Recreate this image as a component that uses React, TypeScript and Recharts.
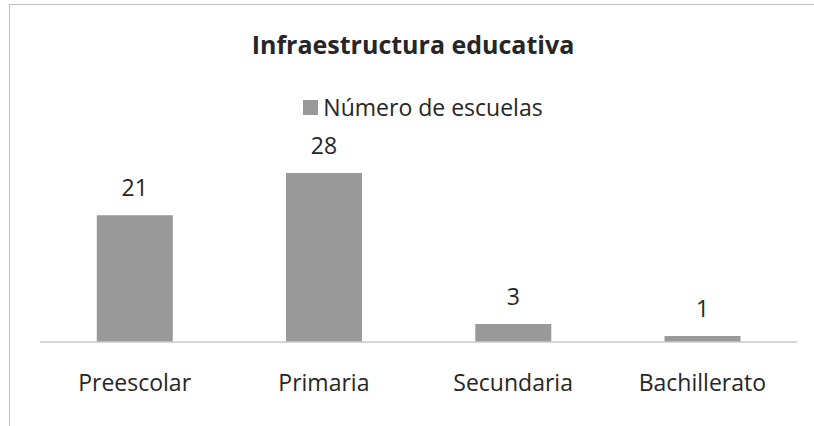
import { BarChart, Bar, XAxis, YAxis, Legend, LabelList } from "recharts";

const categories = ["Preescolar", "Primaria", "Secundaria", "Bachillerato"];
const schools = [21, 28, 3, 1];
const seriesName = "Número de escuelas";

const data = categories.map((c, i) => ({ name: c, escuelas: schools[i] }));

const FONT = "'Open Sans', 'Noto Sans', sans-serif";

const LegendContent = () => (
  <div
    style={{
      display: "flex",
      alignItems: "center",
      justifyContent: "center",
      fontFamily: FONT,
      fontSize: 23,
      color: "#262626",
      paddingLeft: 32,
    }}
  >
    <span
      style={{
        width: 15,
        height: 15,
        background: "#999999",
        display: "inline-block",
        marginRight: 5,
      }}
    />
    {seriesName}
  </div>
);

const App = () => {
  return (
    <div style={{ position: "absolute", left: 0, top: 0, width: 814, height: 426 }}>
      <div
        style={{
          position: "absolute",
          left: 9,
          top: 4,
          width: 830,
          height: 440,
          border: "1.5px solid #c0c0c0",
        }}
      />
      <div
        style={{
          position: "absolute",
          top: 27,
          left: 0,
          width: 826,
          textAlign: "center",
          fontFamily: FONT,
          fontWeight: 700,
          fontSize: 25,
          color: "#262626",
        }}
      >
        Infraestructura educativa
      </div>
      <div style={{ position: "absolute", left: 0, top: 0 }}>
        <BarChart
          width={814}
          height={426}
          data={data}
          margin={{ top: 161, right: 17, bottom: 44, left: 40 }}
          barCategoryGap="30%"
        >
          <XAxis
            dataKey="name"
            height={40}
            tickLine={false}
            axisLine={{ stroke: "#c8c8c8", strokeWidth: 1.5 }}
            tick={{ fill: "#262626", fontSize: 23, fontFamily: FONT }}
            tickMargin={27}
          />
          <YAxis hide domain={[0, 30]} />
          <Legend
            verticalAlign="middle"
            layout="horizontal"
            content={<LegendContent />}
            wrapperStyle={{ position: "absolute", top: 91, left: 0, width: 814 }}
          />
          <Bar dataKey="escuelas" name={seriesName} fill="#999999" isAnimationActive={false}>
            <LabelList
              dataKey="escuelas"
              position="top"
              offset={19}
              style={{ fill: "#262626", fontSize: 23, fontFamily: FONT }}
            />
          </Bar>
        </BarChart>
      </div>
    </div>
  );
};

export default App;
